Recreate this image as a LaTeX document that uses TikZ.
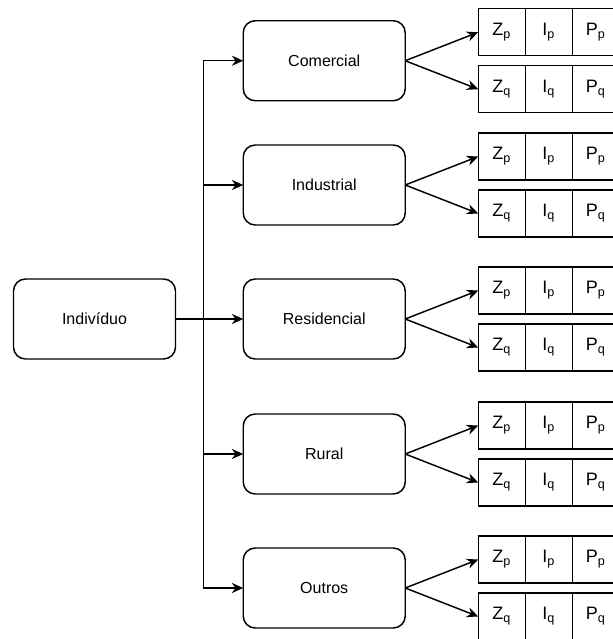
\documentclass[tikz,border=0pt]{standalone}
\usepackage{fontspec}
\setmainfont{Liberation Sans}
\usepackage{tikz}
\usetikzlibrary{arrows.meta, positioning}
\tikzset{
  % boxes for the individual and its classes
  classbox/.style={
    draw, rounded corners=9pt, align=center, outer sep=0pt,
    minimum width=121.5pt, minimum height=60pt,
    line width=1.1pt, font=\fontsize{12}{14}\selectfont
  },
  % one square of a Z/I/P row
  cell/.style={
    draw, line width=1.1pt, outer sep=0pt, inner sep=0pt,
    minimum width=35.25pt, minimum height=35.25pt,
    font=\fontsize{13.5}{15}\selectfont
  },
  arr/.style={
    -{Stealth[length=8.5pt,width=7.5pt]},
    line width=1.1pt
  }
}
\begin{document}
\begin{tikzpicture}[x=0.75pt, y=-0.75pt]
  \useasboundingbox (0,0) rectangle (613,639);
  \node[classbox] (ind) at (94.5,319) {Indivíduo};
  \node[classbox, right=50.8pt of ind] (res) {Residencial};
  \node[classbox, above=40.5pt of res]  (ids) {Industrial};
  \node[classbox, above=33.2pt of ids]  (com) {Comercial};
  \node[classbox, below=41.25pt of res] (rur) {Rural};
  \node[classbox, below=40.5pt of rur]  (out) {Outros};
  \foreach \c in {com,ids,res,rur,out}{
    \draw[arr] (ind.east) -- ++(28,0) |- (\c.west);
    \node[cell, anchor=west] (\c Zp) at ([shift={(73,-28.5)}]\c.east) {Z\textsubscript{p}};
    \node[cell, right=0pt of \c Zp] (\c Ip) {I\textsubscript{p}};
    \node[cell, right=0pt of \c Ip] (\c Pp) {P\textsubscript{p}};
    \node[cell, anchor=west] (\c Zq) at ([shift={(73,28.5)}]\c.east) {Z\textsubscript{q}};
    \node[cell, right=0pt of \c Zq] (\c Iq) {I\textsubscript{q}};
    \node[cell, right=0pt of \c Iq] (\c Pq) {P\textsubscript{q}};
    \draw[arr] (\c.east) -- (\c Zp.west);
    \draw[arr] (\c.east) -- (\c Zq.west);
  }
\end{tikzpicture}
\end{document}
